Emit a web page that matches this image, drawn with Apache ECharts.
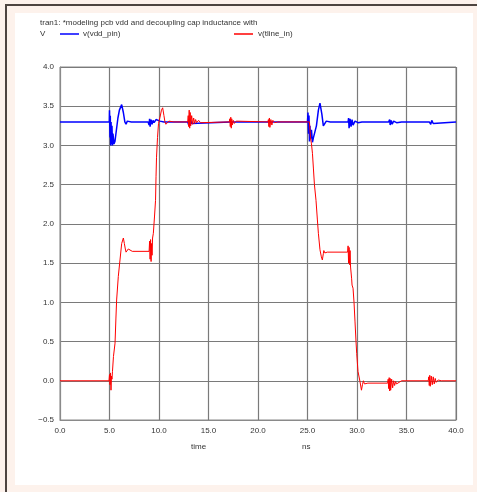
<!DOCTYPE html>
<html>
<head>
<meta charset="utf-8">
<script src="https://cdn.jsdelivr.net/npm/echarts@6/dist/echarts.min.js"></script>
<style>
html,body{margin:0;padding:0;background:#fdf2ec;}
#chart{width:477px;height:492px;}
</style>
</head>
<body>
<div id="chart"></div>
<script>
// ---- data (time in ns, voltage in V) ----
var titleText = 'tran1: *modeling pcb vdd and decoupling cap inductance with';
var yUnit = 'V';
var xName = 'time';
var xUnit = 'ns';
var seriesNames = ['v(vdd_pin)', 'v(tline_in)'];

var vddT = [0, 4.98, 5.0, 5.05, 5.08, 5.12, 5.16, 5.2, 5.25, 5.3, 5.35, 5.45, 5.55, 5.7, 5.85, 6.0, 6.23, 6.4, 6.55, 6.67, 6.8, 6.9, 7.2, 8.9, 9.0, 9.05, 9.1, 9.2, 9.3, 9.4, 9.5, 9.7, 9.9, 10.1, 10.5, 12.9, 13.0, 13.05, 13.1, 13.2, 13.3, 13.5, 17.2, 17.3, 17.4, 17.5, 25.0, 25.05, 25.1, 25.15, 25.2, 25.25, 25.3, 25.4, 25.5, 25.6, 25.7, 25.9, 26.1, 26.26, 26.45, 26.6, 26.75, 26.9, 27.0, 27.3, 29.1, 29.15, 29.2, 29.3, 29.4, 29.5, 29.6, 29.8, 30.1, 30.5, 33.2, 33.3, 33.35, 33.45, 33.55, 33.7, 34.0, 34.5, 37.3, 37.35, 37.45, 37.55, 37.7, 37.9, 40];
var vddV = [3.30, 3.30, 3.45, 3.10, 3.38, 3.00, 3.30, 3.02, 3.25, 3.00, 3.15, 3.02, 3.05, 3.20, 3.35, 3.45, 3.52, 3.42, 3.30, 3.27, 3.31, 3.29, 3.30, 3.30, 3.26, 3.34, 3.24, 3.33, 3.27, 3.32, 3.29, 3.33, 3.32, 3.31, 3.30, 3.30, 3.26, 3.34, 3.25, 3.32, 3.28, 3.30, 3.30, 3.32, 3.28, 3.30, 3.30, 3.42, 3.15, 3.38, 3.05, 3.25, 3.08, 3.20, 3.04, 3.10, 3.08, 3.25, 3.45, 3.54, 3.40, 3.25, 3.24, 3.31, 3.29, 3.30, 3.30, 3.35, 3.22, 3.34, 3.24, 3.33, 3.26, 3.31, 3.29, 3.30, 3.30, 3.33, 3.26, 3.32, 3.27, 3.31, 3.29, 3.30, 3.30, 3.32, 3.27, 3.32, 3.28, 3.30, 3.30];

var tlineT = [0, 4.95, 5.0, 5.05, 5.1, 5.15, 5.2, 5.25, 5.3, 5.4, 5.56, 5.65, 5.72, 5.89, 6.06, 6.23, 6.4, 6.5, 6.6, 6.67, 6.8, 6.9, 7.0, 7.3, 9.0, 9.05, 9.1, 9.15, 9.2, 9.25, 9.3, 9.35, 9.43, 9.55, 9.65, 9.7, 9.75, 9.85, 9.95, 10.1, 10.25, 10.37, 10.5, 10.6, 10.7, 10.8, 11.0, 11.5, 12.9, 12.95, 13.0, 13.05, 13.1, 13.15, 13.2, 13.3, 13.4, 13.5, 13.6, 13.7, 13.8, 14.0, 14.2, 14.4, 17.1, 17.15, 17.2, 17.25, 17.3, 17.35, 17.4, 17.5, 17.6, 17.8, 18.0, 21.0, 21.05, 21.1, 21.15, 21.2, 21.3, 21.4, 21.5, 21.7, 22.0, 25.2, 25.3, 25.4, 25.5, 25.6, 25.7, 25.86, 26.0, 26.1, 26.26, 26.4, 26.5, 26.6, 26.65, 26.75, 27.0, 29.05, 29.1, 29.15, 29.2, 29.25, 29.3, 29.35, 29.46, 29.5, 29.6, 29.7, 29.8, 29.9, 29.97, 30.1, 30.3, 30.45, 30.55, 30.65, 30.75, 30.9, 31.1, 33.1, 33.15, 33.2, 33.25, 33.3, 33.35, 33.4, 33.5, 33.6, 33.7, 33.8, 33.9, 34.0, 34.2, 34.5, 37.2, 37.25, 37.3, 37.35, 37.4, 37.5, 37.6, 37.7, 37.8, 37.9, 38.0, 38.2, 38.5, 40];
var tlineV = [0, 0, 0.08, -0.05, 0.10, -0.12, 0.06, 0.02, 0.12, 0.31, 0.48, 0.80, 1.03, 1.33, 1.54, 1.75, 1.82, 1.75, 1.68, 1.64, 1.65, 1.68, 1.66, 1.65, 1.65, 1.78, 1.55, 1.80, 1.52, 1.75, 1.60, 1.82, 1.88, 2.10, 2.30, 2.60, 2.85, 3.10, 3.28, 3.36, 3.45, 3.48, 3.38, 3.30, 3.27, 3.29, 3.31, 3.30, 3.30, 3.38, 3.24, 3.45, 3.22, 3.42, 3.25, 3.38, 3.27, 3.35, 3.28, 3.33, 3.29, 3.32, 3.29, 3.30, 3.30, 3.34, 3.24, 3.36, 3.22, 3.34, 3.26, 3.32, 3.28, 3.31, 3.30, 3.30, 3.33, 3.24, 3.35, 3.23, 3.33, 3.26, 3.32, 3.29, 3.30, 3.30, 3.10, 3.02, 2.90, 2.70, 2.50, 2.30, 2.05, 1.88, 1.67, 1.58, 1.54, 1.62, 1.66, 1.63, 1.64, 1.64, 1.72, 1.50, 1.70, 1.48, 1.66, 1.45, 1.30, 1.22, 1.18, 1.00, 0.75, 0.50, 0.35, 0.12, -0.01, -0.12, -0.05, 0.00, -0.04, -0.02, -0.03, -0.03, 0.02, -0.10, 0.04, -0.13, 0.03, -0.12, 0.02, -0.09, 0.00, -0.06, -0.01, -0.04, -0.02, 0.00, 0.00, 0.05, -0.06, 0.07, -0.07, 0.06, -0.05, 0.05, -0.04, 0.03, -0.02, 0.01, 0.00, 0];

var xTicks = {min: 0, max: 40, interval: 5};
var yTicks = {min: -0.5, max: 4.0, interval: 0.5};

function zip(a, b) { return a.map(function (t, i) { return [t, b[i]]; }); }

var chart = echarts.init(document.getElementById('chart'), null, {renderer: 'canvas'});
var font = 'Liberation Sans, Arial, Helvetica, sans-serif';
var txt = '#333';
var gridC = '#7a7a7a';

chart.setOption({
  animation: false,
  backgroundColor: '#fdf2ec',
  textStyle: {fontFamily: font},
  graphic: [
    {type: 'rect', z: -10, shape: {x: 15, y: 13, width: 458, height: 472}, style: {fill: '#ffffff'}},
    {type: 'polyline', z: -9, shape: {points: [[6, 492], [6, 5], [477, 5]]}, style: {stroke: '#4d4440', lineWidth: 2, fill: null}},
    {type: 'text', left: 40, top: 30, style: {text: yUnit, fontSize: 8, fill: txt, fontFamily: font}},
    {type: 'text', left: 191, top: 443, style: {text: xName, fontSize: 8, fill: txt, fontFamily: font}},
    {type: 'text', left: 302, top: 443, style: {text: xUnit, fontSize: 8, fill: txt, fontFamily: font}}
  ],
  title: {
    text: titleText, left: 40, top: 19, padding: 0,
    textStyle: {fontSize: 8, fontWeight: 'normal', color: txt, fontFamily: font}
  },
  legend: [
    {data: [seriesNames[0]], left: 60, top: 30, padding: 0, icon: 'rect', itemWidth: 19, itemHeight: 1.5, itemGap: 4,
     textStyle: {fontSize: 8, color: txt, fontFamily: font, padding: [0, 0, 0, -1]}},
    {data: [seriesNames[1]], left: 234, top: 30, padding: 0, icon: 'rect', itemWidth: 19, itemHeight: 1.5, itemGap: 4,
     textStyle: {fontSize: 8, color: txt, fontFamily: font}}
  ],
  grid: {left: 60, top: 67, right: 21, bottom: 72, show: true, borderColor: '#8a8a8a', borderWidth: 1, backgroundColor: 'transparent'},
  xAxis: {
    type: 'value', min: xTicks.min, max: xTicks.max, interval: xTicks.interval,
    axisLine: {show: true, onZero: false, lineStyle: {color: '#8a8a8a', width: 1}},
    axisTick: {show: false},
    axisLabel: {fontSize: 8, color: txt, margin: 7, fontFamily: font, formatter: function (v) { return v.toFixed(1); }},
    splitLine: {show: true, lineStyle: {color: gridC, width: 1.2}}
  },
  yAxis: {
    type: 'value', min: yTicks.min, max: yTicks.max, interval: yTicks.interval,
    axisLine: {show: true, onZero: false, lineStyle: {color: '#8a8a8a', width: 1}},
    axisTick: {show: false},
    axisLabel: {fontSize: 8, color: txt, margin: 6, fontFamily: font, formatter: function (v) { return (v < 0 ? '\u2212' : '') + Math.abs(v).toFixed(1); }},
    splitLine: {show: true, lineStyle: {color: gridC, width: 1.2}}
  },
  series: [
    {name: seriesNames[0], type: 'line', data: zip(vddT, vddV), showSymbol: false, symbol: 'none',
     color: '#0000ff', lineStyle: {color: '#0000ff', width: 1.5}},
    {name: seriesNames[1], type: 'line', data: zip(tlineT, tlineV), showSymbol: false, symbol: 'none',
     color: '#ff0000', lineStyle: {color: '#ff0000', width: 1}}
  ]
});
</script>
</body>
</html>
